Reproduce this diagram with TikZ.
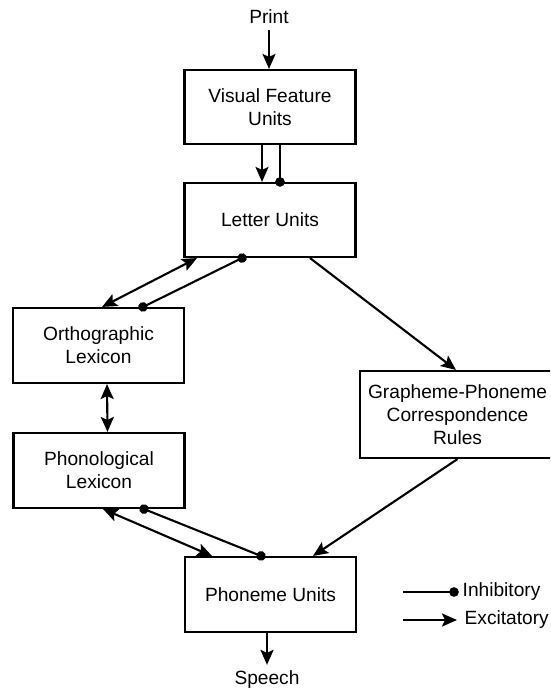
\documentclass[tikz,border=0pt]{standalone}
\usepackage{fontspec}
\setmainfont{Liberation Sans}
\usetikzlibrary{calc,arrows.meta}

\tikzset{
  unit/.style={draw, line width=1.2pt, minimum width=3.42cm, minimum height=1.5cm, align=center, inner sep=0pt},
  exc/.style={line width=1.2pt, -{Stealth[length=0.3cm,width=0.26cm,inset=0.06cm]}},
  excboth/.style={line width=1.2pt, {Stealth[length=0.3cm,width=0.26cm,inset=0.06cm]}-{Stealth[length=0.3cm,width=0.26cm,inset=0.06cm]}},
  inh/.style={line width=1.2pt, -{Circle[length=0.19cm]}, shorten >=-0.095cm},
  inhboth/.style={line width=1.2pt, {Circle[length=0.19cm]}-{Circle[length=0.19cm]}, shorten >=-0.095cm, shorten <=-0.095cm}
}

\begin{document}
\begin{tikzpicture}[font=\fontsize{10.9pt}{13.1pt}\selectfont]
\useasboundingbox (0,0) rectangle (11,-13.84);
\clip (0,0) rectangle (11,-13.84);
% units
\node [unit, minimum height=1.48cm] (vf) at (5.4,-2.14) {Visual Feature\\Units};
\node [unit, minimum height=1.48cm] (lu) at (5.4,-4.4) {Letter Units};
\node [unit] (orth) at (1.97,-6.91) {Orthographic\\Lexicon};
\node [unit] (phon) at (1.98,-9.41) {Phonological\\Lexicon};
\node [unit, minimum width=3.9cm, minimum height=1.74cm] (gpc) at (9.15,-8.29) {Grapheme-Phoneme\\Correspondence\\Rules};
\node [unit] (phu) at (5.41,-11.89) {Phoneme Units};
\node (print) at (5.38,-0.34) {Print};
\node (speech) at (5.34,-13.6) {Speech};
% connections
\draw [exc] (print.south) -- (print.south |- vf.north);
\draw [exc] ($(vf.south)+(-0.16,0)$) -- ($(lu.north)+(-0.16,0)$);
\draw [inh] ($(vf.south)+(0.2,0)$) -- ($(lu.north)+(0.2,0)$);
\draw [excboth] ($(lu.south)+(-1.46,0)$) -- ($(orth.north)+(0.07,0)$);
\draw [inhboth] ($(lu.south)+(-0.56,0)$) -- ($(orth.north)+(0.89,0)$);
\draw [exc] ($(lu.south)+(0.8,0)$) -- ($(gpc.north)+(-0.03,0)$);
\draw [excboth] ($(orth.south)+(0.17,0)$) -- ($(phon.north)+(0.17,0)$);
\draw [excboth] ($(phon.south)+(0.08,0)$) -- ($(phu.north)+(-1.17,0)$);
\draw [inhboth] ($(phon.south)+(0.9,0)$) -- ($(phu.north)+(-0.19,0)$);
\draw [exc] (gpc.south) -- ($(phu.north)+(0.85,0)$);
\draw [exc] (phu.south -| speech.north) -- (speech.north);
% legend
\coordinate (inh a) at (8.06,-11.84);
\coordinate (inh b) at (9.08,-11.84);
\draw [inh] (inh a) -- (inh b);
\node [anchor=west] (inh label) at ($(inh b)+(0.05,0)$) {Inhibitory};
\coordinate (exc a) at (8.06,-12.4);
\coordinate (exc b) at (9.14,-12.4);
\draw [exc] (exc a) -- (exc b);
\node [anchor=west] (exc label) at ($(exc b)+(0.03,0)$) {Excitatory};
\end{tikzpicture}
\end{document}
